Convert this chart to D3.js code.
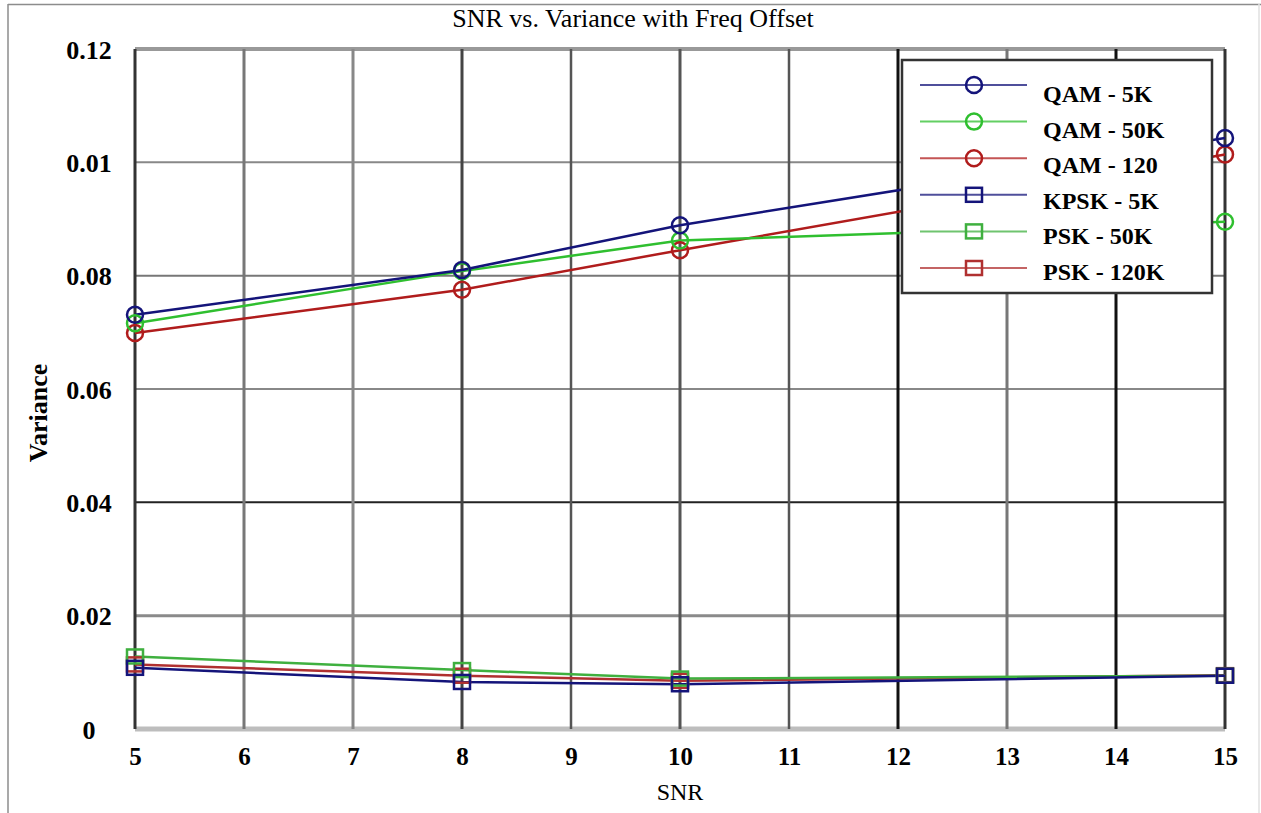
<!DOCTYPE html>
<html>
<head>
<meta charset="utf-8">
<script src="https://cdn.jsdelivr.net/npm/d3@7"></script>
<style>
  html, body { margin: 0; padding: 0; background: #fff; }
  svg { display: block; }
  text { font-family: "Liberation Serif", "Times New Roman", serif; }
</style>
</head>
<body>
<svg id="chart" width="1261" height="813"></svg>
<script>
// ---- data ----
const snr = [5, 8, 10, 15];
const qam5k   = [0.0731, 0.0810, 0.0889, 0.1043];
const qam50k  = [0.0716, 0.0808, 0.0862, 0.0895];
const qam120  = [0.0699, 0.0775, 0.0845, 0.1014];
const kpsk5k  = [0.0108, 0.0083, 0.0079, 0.0094];
const psk50k  = [0.0128, 0.0104, 0.0089, 0.0094];
const psk120k = [0.0114, 0.0094, 0.0085, 0.0095];
const seriesNames = ["QAM - 5K", "QAM - 50K", "QAM - 120", "KPSK - 5K", "PSK - 50K", "PSK - 120K"];
const xTicks = [5, 6, 7, 8, 9, 10, 11, 12, 13, 14, 15];
const yTicks = [0, 0.02, 0.04, 0.06, 0.08, 0.10, 0.12];
const yTickLabels = ["0", "0.02", "0.04", "0.06", "0.08", "0.01", "0.12"];
const titleText = "SNR vs. Variance with Freq Offset";
const xLabel = "SNR";
const yLabel = "Variance";

// ---- styles ----
const colors = ["#14147a", "#2fbf2f", "#b01c1c", "#14147a", "#3fb03f", "#b03030"];
const markers = ["circle", "circle", "circle", "square", "square", "square"];
const vGridColor = ["#333", "#777", "#888", "#444", "#555", "#555", "#555", "#111", "#777", "#111", "#333"];
const vGridWidth = [3, 3, 3, 3, 2.5, 3, 2.5, 3, 3, 3, 3];
const hGridColor = ["#bdbdbd", "#8a8a8a", "#222", "#888", "#777", "#888", "#999"];
const hGridWidth = [5, 3, 2, 2, 2, 2, 4];

const series = [qam5k, qam50k, qam120, kpsk5k, psk50k, psk120k];

const svg = d3.select("#chart");
const W = 1261, H = 813;
const x = d3.scaleLinear().domain([5, 15]).range([135, 1225]);
const y = d3.scaleLinear().domain([0, 0.12]).range([729, 49]);

// outer frame
svg.append("line").attr("x1", 8).attr("x2", 1261).attr("y1", 4.5).attr("y2", 4.5)
  .attr("stroke", "#8c8c8c").attr("stroke-width", 1.5);
svg.append("line").attr("x1", 8).attr("x2", 8).attr("y1", 4).attr("y2", H)
  .attr("stroke", "#8c8c8c").attr("stroke-width", 1.5);
svg.append("line").attr("x1", 1259).attr("x2", 1259).attr("y1", 4).attr("y2", H)
  .attr("stroke", "#e0e0e0").attr("stroke-width", 1.5);

// grid
const g = svg.append("g");
g.selectAll("line.h").data(yTicks).join("line").attr("class", "h")
  .attr("x1", x(5)).attr("x2", x(15))
  .attr("y1", d => y(d)).attr("y2", d => y(d))
  .attr("stroke", (d, i) => hGridColor[i]).attr("stroke-width", (d, i) => hGridWidth[i]);
g.selectAll("line.v").data(xTicks).join("line").attr("class", "v")
  .attr("x1", d => x(d)).attr("x2", d => x(d))
  .attr("y1", y(0.12)).attr("y2", y(0))
  .attr("stroke", (d, i) => vGridColor[i]).attr("stroke-width", (d, i) => vGridWidth[i]);

// axes (labels only)
const xAxis = svg.append("g").attr("transform", `translate(0,${y(0)})`)
  .call(d3.axisBottom(x).tickValues(xTicks).tickSize(0).tickPadding(0).tickFormat(d3.format("d")));
xAxis.select(".domain").remove();
xAxis.selectAll("text").attr("y", 36).attr("dy", 0)
  .attr("font-size", 25).attr("font-weight", "bold").attr("fill", "#000")
  .attr("font-family", "Liberation Serif");

const yAxis = svg.append("g").attr("transform", `translate(89,0)`)
  .call(d3.axisLeft(y).tickValues(yTicks).tickSize(0).tickPadding(0).tickFormat((d, i) => yTickLabels[i]));
yAxis.select(".domain").remove();
yAxis.selectAll("text").attr("x", 0).attr("text-anchor", "middle").attr("dy", "0.35em")
  .attr("font-size", 26).attr("font-weight", "bold").attr("fill", "#000")
  .attr("font-family", "Liberation Serif");

// title & labels
svg.append("text").attr("x", 633).attr("y", 27).attr("text-anchor", "middle")
  .attr("font-size", 26).attr("fill", "#000").text(titleText);
svg.append("text").attr("x", 680).attr("y", 800).attr("text-anchor", "middle")
  .attr("font-size", 24).attr("fill", "#000").text(xLabel);
svg.append("text").attr("transform", "translate(47,413) rotate(-90)").attr("text-anchor", "middle")
  .attr("font-size", 26).attr("font-weight", "bold").attr("fill", "#000").text(yLabel);

// lines
const line = d3.line().x((d, i) => x(snr[i])).y(d => y(d));
const order = [5, 4, 3, 2, 1, 0];
const plot = svg.append("g");

function drawMarker(sel, type, cx, cy, color) {
  if (type === "circle") {
    sel.append("circle").attr("cx", cx).attr("cy", cy).attr("r", 8)
      .attr("fill", "none").attr("stroke", color).attr("stroke-width", 2.5);
  } else {
    sel.append("rect").attr("x", cx - 8).attr("y", cy - 7).attr("width", 16).attr("height", 14)
      .attr("fill", "none").attr("stroke", color).attr("stroke-width", 2.5);
  }
}

order.forEach(k => {
  plot.append("path").datum(series[k]).attr("d", line)
    .attr("fill", "none").attr("stroke", colors[k]).attr("stroke-width", 2.5);
});
order.forEach(k => {
  series[k].forEach((v, i) => drawMarker(plot, markers[k], x(snr[i]), y(v), colors[k]));
});

// legend
const lg = svg.append("g");
lg.append("rect").attr("x", 902).attr("y", 60).attr("width", 310).attr("height", 233)
  .attr("fill", "#fff").attr("stroke", "#333").attr("stroke-width", 2.5);
seriesNames.forEach((name, i) => {
  const ry = 85 + i * 36.6;
  lg.append("line").attr("x1", 920).attr("x2", 1027).attr("y1", ry).attr("y2", ry)
    .attr("stroke", colors[i]).attr("stroke-width", 2).attr("stroke-opacity", 0.75);
  drawMarker(lg, markers[i], 974, ry, colors[i]);
  lg.append("text").attr("x", 1043).attr("y", 102 + i * 35.6)
    .attr("font-size", 24).attr("font-weight", "bold").attr("fill", "#000").text(name);
});
</script>
</body>
</html>
